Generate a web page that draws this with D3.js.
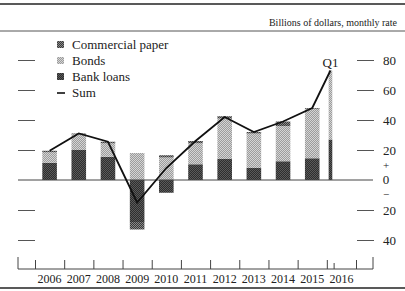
<!DOCTYPE html>
<html>
<head>
<meta charset="utf-8">
<script src="https://cdn.jsdelivr.net/npm/d3@7"></script>
<style>
  html, body { margin: 0; padding: 0; background: #fff; }
  svg { display: block; font-family: "Liberation Serif", "DejaVu Serif", serif; }
</style>
</head>
<body>
<div id="chart"></div>
<script>
// years (the last one is only Q1 of 2016)
var years = [2006, 2007, 2008, 2009, 2010, 2011, 2012, 2013, 2014, 2015, 2016];
var yearLabels = ["2006", "2007", "2008", "2009", "2010", "2011", "2012", "2013", "2014", "2015", "2016"];
// span of each bar in years (full year, or a quarter for 2016 Q1)
var spans = [1, 1, 1, 1, 1, 1, 1, 1, 1, 1, 0.25];

// billions of dollars, monthly rate
var bankLoans       = [11.5, 20, 15.5, -28, -8.5, 10.5, 14, 8, 12.5, 14.5, 27];
var bonds           = [7, 10.5, 9, 18, 15, 14, 27, 23, 23.5, 33, 46];
var commercialPaper = [1, 0.5, 1, -5, 1.5, 1.5, 1.5, 1, 3, 0.5, 0];
var sum             = [19.5, 31, 25.5, -15, 8, 26, 42, 32, 39, 48, 73];

var yTicks = [-40, -20, 0, 20, 40, 60, 80];

document.addEventListener('DOMContentLoaded', function() {
    drawChart()
}, false);

function drawChart() {
    var width = 405, height = 291;
    var frameLeft = 18, frameRight = 373, axisY = 269;

    var svg = d3.select("#chart")
      .append("svg")
        .attr("width", width)
        .attr("height", height);

    // stipple-like fills
    var defs = svg.append("defs");
    function pattern(id, a, b) {
        var p = defs.append("pattern")
            .attr("id", id)
            .attr("width", 2).attr("height", 2)
            .attr("patternUnits", "userSpaceOnUse");
        p.append("rect").attr("width", 2).attr("height", 2).attr("fill", a);
        p.append("rect").attr("width", 1).attr("height", 1).attr("fill", b);
        p.append("rect").attr("x", 1).attr("y", 1).attr("width", 1).attr("height", 1).attr("fill", b);
    }
    pattern("pBank", "#2e2e2e", "#5a5a5a");
    pattern("pBonds", "#9c9c9c", "#d4d4d4");
    pattern("pPaper", "#3a3a3a", "#8a8a8a");

    var fills = { bank: "url(#pBank)", bonds: "url(#pBonds)", paper: "url(#pPaper)" };

    // x: continuous time in years
    var x = d3.scaleLinear().domain([2006, 2017]).range([35, 356]);
    var y = d3.scaleLinear().domain([-40, 80]).range([240, 60]);

    // top rules and unit note
    svg.append("line").attr("x1", 0).attr("x2", width).attr("y1", 4).attr("y2", 4)
        .attr("stroke", "#222").attr("stroke-width", 1.6);
    svg.append("text")
        .attr("x", 397).attr("y", 26)
        .attr("text-anchor", "end")
        .style("font-size", "10px")
        .attr("fill", "#222")
        .text("Billions of dollars, monthly rate");
    svg.append("line").attr("x1", 0).attr("x2", width).attr("y1", 31).attr("y2", 31)
        .attr("stroke", "#555").attr("stroke-width", 1);
    // bottom rule
    svg.append("line").attr("x1", 0).attr("x2", width).attr("y1", 288).attr("y2", 288)
        .attr("stroke", "#222").attr("stroke-width", 1.6);

    // left ticks (no labels)
    svg.append("g")
      .attr("transform", "translate(35,0)")
      .call(d3.axisLeft(y).tickValues(yTicks.filter(function(v) { return v !== 0; }))
            .tickSize(17).tickFormat(""))
      .call(function(g) { g.select(".domain").remove(); })
      .selectAll("line").attr("stroke", "#555");

    // right ticks and labels
    var right = svg.append("g")
      .attr("transform", "translate(357,0)")
      .call(d3.axisRight(y).tickValues(yTicks.filter(function(v) { return v !== 0; }))
            .tickSize(17).tickPadding(9)
            .tickFormat(function(d) { return Math.abs(d); }));
    right.select(".domain").remove();
    right.selectAll("line").attr("stroke", "#555");
    right.selectAll("text")
        .style("font-size", "13px")
        .style("font-family", "Liberation Serif, serif")
        .attr("fill", "#222");

    // +0- marker
    var zg = svg.append("g").attr("fill", "#222");
    zg.append("text").attr("x", 386).attr("y", y(0) - 11).attr("text-anchor", "middle")
        .style("font-size", "11px").text("+");
    zg.append("text").attr("x", 386).attr("y", y(0) + 4).attr("text-anchor", "middle")
        .style("font-size", "13px").text("0");
    zg.append("text").attr("x", 386).attr("y", y(0) + 18).attr("text-anchor", "middle")
        .style("font-size", "11px").text("\u2212");

    // stacked bars
    var rows = years.map(function(yr, i) {
        return { year: yr, span: spans[i], bank: bankLoans[i], bonds: bonds[i], paper: commercialPaper[i] };
    });
    var stack = d3.stack()
        .keys(["bank", "bonds", "paper"])
        .offset(d3.stackOffsetDiverging);
    var series = stack(rows);

    svg.append("g").selectAll("g")
      .data(series)
      .enter()
      .append("g")
        .attr("fill", function(s) { return fills[s.key]; })
      .selectAll("rect")
      .data(function(s) { return s; })
      .enter()
      .append("rect")
        .attr("x", function(d) { return x(d.data.year + d.data.span * 0.25); })
        .attr("width", function(d) { return x(d.data.year + d.data.span * 0.75) - x(d.data.year + d.data.span * 0.25); })
        .attr("y", function(d) { return y(Math.max(d[0], d[1])); })
        .attr("height", function(d) { return Math.abs(y(d[0]) - y(d[1])); });

    // zero line
    svg.append("line")
        .attr("x1", frameLeft).attr("x2", frameRight)
        .attr("y1", y(0)).attr("y2", y(0))
        .attr("stroke", "#444").attr("stroke-width", 1);

    // sum line
    var line = d3.line()
        .x(function(d, i) { return x(years[i] + spans[i] / 2); })
        .y(function(d) { return y(d); });
    svg.append("path")
        .datum(sum)
        .attr("d", line)
        .attr("fill", "none")
        .attr("stroke", "#111")
        .attr("stroke-width", 1.8);

    // Q1 label
    svg.append("text")
        .attr("x", x(2016 + 0.125))
        .attr("y", y(sum[sum.length - 1]) - 4)
        .attr("text-anchor", "middle")
        .style("font-size", "13px")
        .attr("fill", "#222")
        .text("Q1");

    // bottom axis: boundary ticks
    svg.append("line")
        .attr("x1", frameLeft).attr("x2", frameRight)
        .attr("y1", axisY).attr("y2", axisY)
        .attr("stroke", "#444");
    var tickYears = d3.range(2006, 2018);
    var bx = svg.append("g")
      .attr("transform", "translate(0," + axisY + ")")
      .call(d3.axisBottom(x).tickValues(tickYears).tickSize(-9).tickFormat(""));
    bx.select(".domain").remove();
    bx.selectAll("line").attr("stroke", "#444");
    // end-of-Q1 tick
    svg.append("line")
        .attr("x1", x(2016.25)).attr("x2", x(2016.25))
        .attr("y1", axisY).attr("y2", axisY - 6)
        .attr("stroke", "#444");
    // frame ends
    [frameLeft, frameRight].forEach(function(fx) {
        svg.append("line")
            .attr("x1", fx).attr("x2", fx)
            .attr("y1", axisY).attr("y2", axisY - 12)
            .attr("stroke", "#444");
    });

    // year labels
    svg.append("g").selectAll("text")
      .data(yearLabels)
      .enter()
      .append("text")
        .attr("x", function(d, i) { return x(years[i] + 0.5); })
        .attr("y", 283)
        .attr("text-anchor", "middle")
        .style("font-size", "12px")
        .attr("fill", "#222")
        .text(function(d) { return d; });

    // legend
    var legend = [
        { name: "Commercial paper", fill: fills.paper },
        { name: "Bonds", fill: fills.bonds },
        { name: "Bank loans", fill: fills.bank },
        { name: "Sum", fill: null }
    ];
    var lg = svg.append("g").selectAll("g")
      .data(legend)
      .enter()
      .append("g")
        .attr("transform", function(d, i) { return "translate(57," + (45 + i * 16) + ")"; });
    lg.filter(function(d) { return d.fill; })
      .append("rect")
        .attr("x", 0).attr("y", -4).attr("width", 7).attr("height", 7)
        .attr("fill", function(d) { return d.fill; });
    lg.filter(function(d) { return !d.fill; })
      .append("line")
        .attr("x1", 0).attr("x2", 8).attr("y1", 0).attr("y2", 0)
        .attr("stroke", "#111").attr("stroke-width", 1.6);
    lg.append("text")
        .attr("x", 15).attr("y", 4)
        .style("font-size", "13px")
        .attr("fill", "#222")
        .text(function(d) { return d.name; });
}
</script>
</body>
</html>
